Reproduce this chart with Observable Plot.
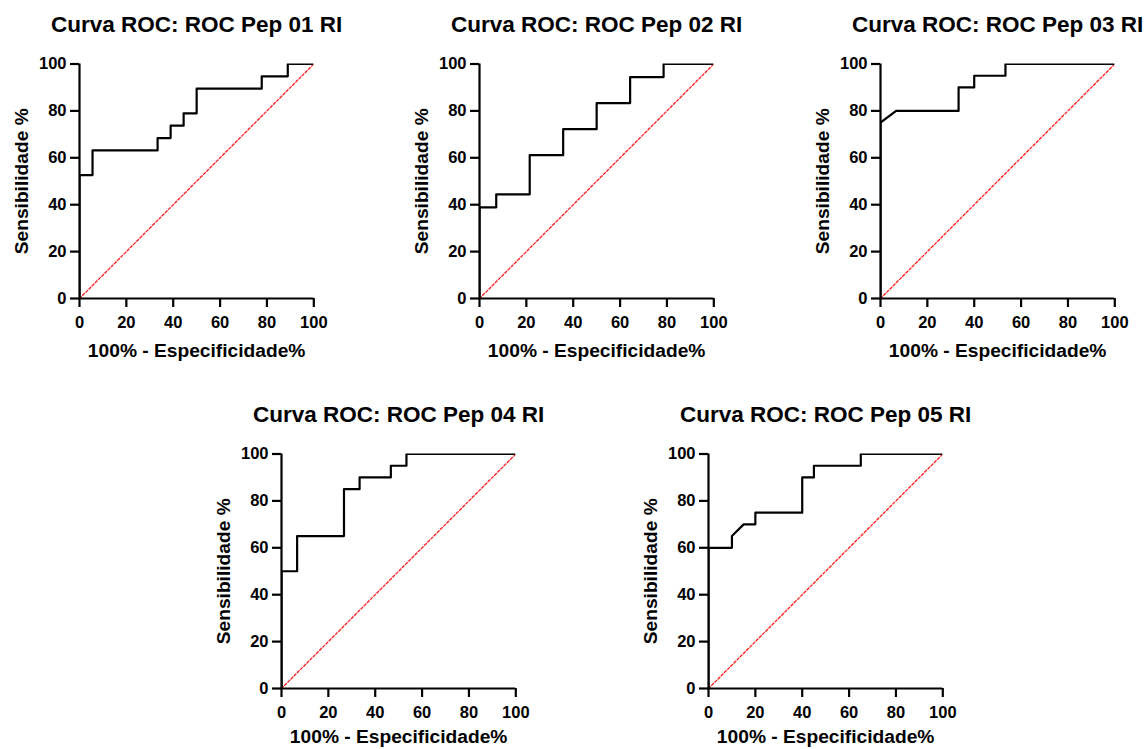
<!DOCTYPE html>
<html>
<head>
<meta charset="utf-8">
<script src="https://cdn.jsdelivr.net/npm/d3@7"></script>
<script src="https://cdn.jsdelivr.net/npm/@observablehq/plot@0.6"></script>
<style>
  html, body { margin: 0; padding: 0; background: #fff; }
  #root { position: relative; width: 1145px; height: 749px; overflow: hidden; background: #fff; }
  .panel { position: absolute; }
</style>
</head>
<body>
<div id="root"></div>
<script>
// ---- Data ----
const titles = [
  "Curva ROC: ROC Pep 01 RI",
  "Curva ROC: ROC Pep 02 RI",
  "Curva ROC: ROC Pep 03 RI",
  "Curva ROC: ROC Pep 04 RI",
  "Curva ROC: ROC Pep 05 RI"
];
const xLabel = "100% - Especificidade%";
const yLabel = "Sensibilidade %";
const tickValues = [0, 20, 40, 60, 80, 100];
const diagX = [0, 100];
const diagY = [0, 100];

const pep01Fpr  = [0, 0, 5.56, 5.56, 33.33, 33.33, 38.89, 38.89, 44.44, 44.44, 50, 50, 77.78, 77.78, 88.89, 88.89, 100];
const pep01Sens = [0, 52.63, 52.63, 63.16, 63.16, 68.42, 68.42, 73.68, 73.68, 78.95, 78.95, 89.47, 89.47, 94.74, 94.74, 100, 100];

const pep02Fpr  = [0, 0, 7.14, 7.14, 21.43, 21.43, 35.71, 35.71, 50, 50, 64.29, 64.29, 78.57, 78.57, 100];
const pep02Sens = [0, 38.89, 38.89, 44.44, 44.44, 61.11, 61.11, 72.22, 72.22, 83.33, 83.33, 94.44, 94.44, 100, 100];

const pep03Fpr  = [0, 0, 6.67, 33.33, 33.33, 40, 40, 53.33, 53.33, 100];
const pep03Sens = [0, 75, 80, 80, 90, 90, 95, 95, 100, 100];

const pep04Fpr  = [0, 0, 6.67, 6.67, 26.67, 26.67, 33.33, 33.33, 46.67, 46.67, 53.33, 53.33, 100];
const pep04Sens = [0, 50, 50, 65, 65, 85, 85, 90, 90, 95, 95, 100, 100];

const pep05Fpr  = [0, 0, 10, 10, 15, 20, 20, 40, 40, 45, 45, 65, 65, 100];
const pep05Sens = [0, 60, 60, 65, 70, 70, 75, 75, 90, 90, 95, 95, 100, 100];

const series = [
  [pep01Fpr, pep01Sens],
  [pep02Fpr, pep02Sens],
  [pep03Fpr, pep03Sens],
  [pep04Fpr, pep04Sens],
  [pep05Fpr, pep05Sens]
];

// ---- Layout ----
const positions = [
  {left: 0, top: 0, labelDy: 52},
  {left: 400, top: 0, labelDy: 52},
  {left: 801, top: 0, labelDy: 52},
  {left: 202, top: 390, labelDy: 48},
  {left: 629, top: 390, labelDy: 48}
];
const W = 343, H = 370;
const ML = 79, MT = 63.5, FW = 234.3, FH = 234.5;
const font = "'Liberation Sans', Arial, Helvetica, sans-serif";

const root = document.getElementById("root");

series.forEach(([fx, fy], i) => {
  const pts = fx.map((x, j) => ({x, y: fy[j]}));
  const diag = diagX.map((x, j) => ({x, y: diagY[j]}));
  const chart = Plot.plot({
    width: W,
    height: H,
    marginLeft: ML,
    marginTop: MT,
    marginRight: W - ML - FW,
    marginBottom: H - MT - FH,
    style: {fontFamily: font, fontWeight: "bold", fontSize: "16px", color: "#000", background: "transparent", overflow: "visible"},
    x: {domain: [0, 100], label: null},
    y: {domain: [0, 100], label: null},
    marks: [
      Plot.line(diag, {x: "x", y: "y", stroke: "#ff1a1a", strokeWidth: 1.3, strokeDasharray: "2.5,2", clip: true}),
      Plot.line(pts, {x: "x", y: "y", stroke: "#000", strokeWidth: 2.2, clip: true}),
      Plot.axisX({ticks: tickValues, tickSize: 9, tickPadding: 9, strokeWidth: 2.2, stroke: "#000", label: null, fontSize: 16.5, fontWeight: "bold"}),
      Plot.axisY({ticks: tickValues, tickSize: 9, tickPadding: 4, strokeWidth: 2.2, stroke: "#000", label: null, fontSize: 16.5, fontWeight: "bold"}),
      Plot.ruleY([0], {strokeWidth: 2.2, stroke: "#000"}),
      Plot.ruleX([0], {strokeWidth: 2.2, stroke: "#000"}),
      Plot.text([titles[i]], {frameAnchor: "top", dy: -39, fontSize: 22.5, fontWeight: "bold", fill: "#000", lineAnchor: "middle", textAnchor: "middle"}),
      Plot.text([xLabel], {frameAnchor: "bottom", dy: positions[i].labelDy, fontSize: 19.2, fontWeight: "bold", fill: "#000", lineAnchor: "middle", textAnchor: "middle"}),
      Plot.text([yLabel], {frameAnchor: "left", dx: -58, rotate: -90, fontSize: 19.2, fontWeight: "bold", fill: "#000", lineAnchor: "middle", textAnchor: "middle"})
    ]
  });
  const div = document.createElement("div");
  div.className = "panel";
  div.style.left = positions[i].left + "px";
  div.style.top = positions[i].top + "px";
  div.appendChild(chart);
  root.appendChild(div);
});
</script>
</body>
</html>
